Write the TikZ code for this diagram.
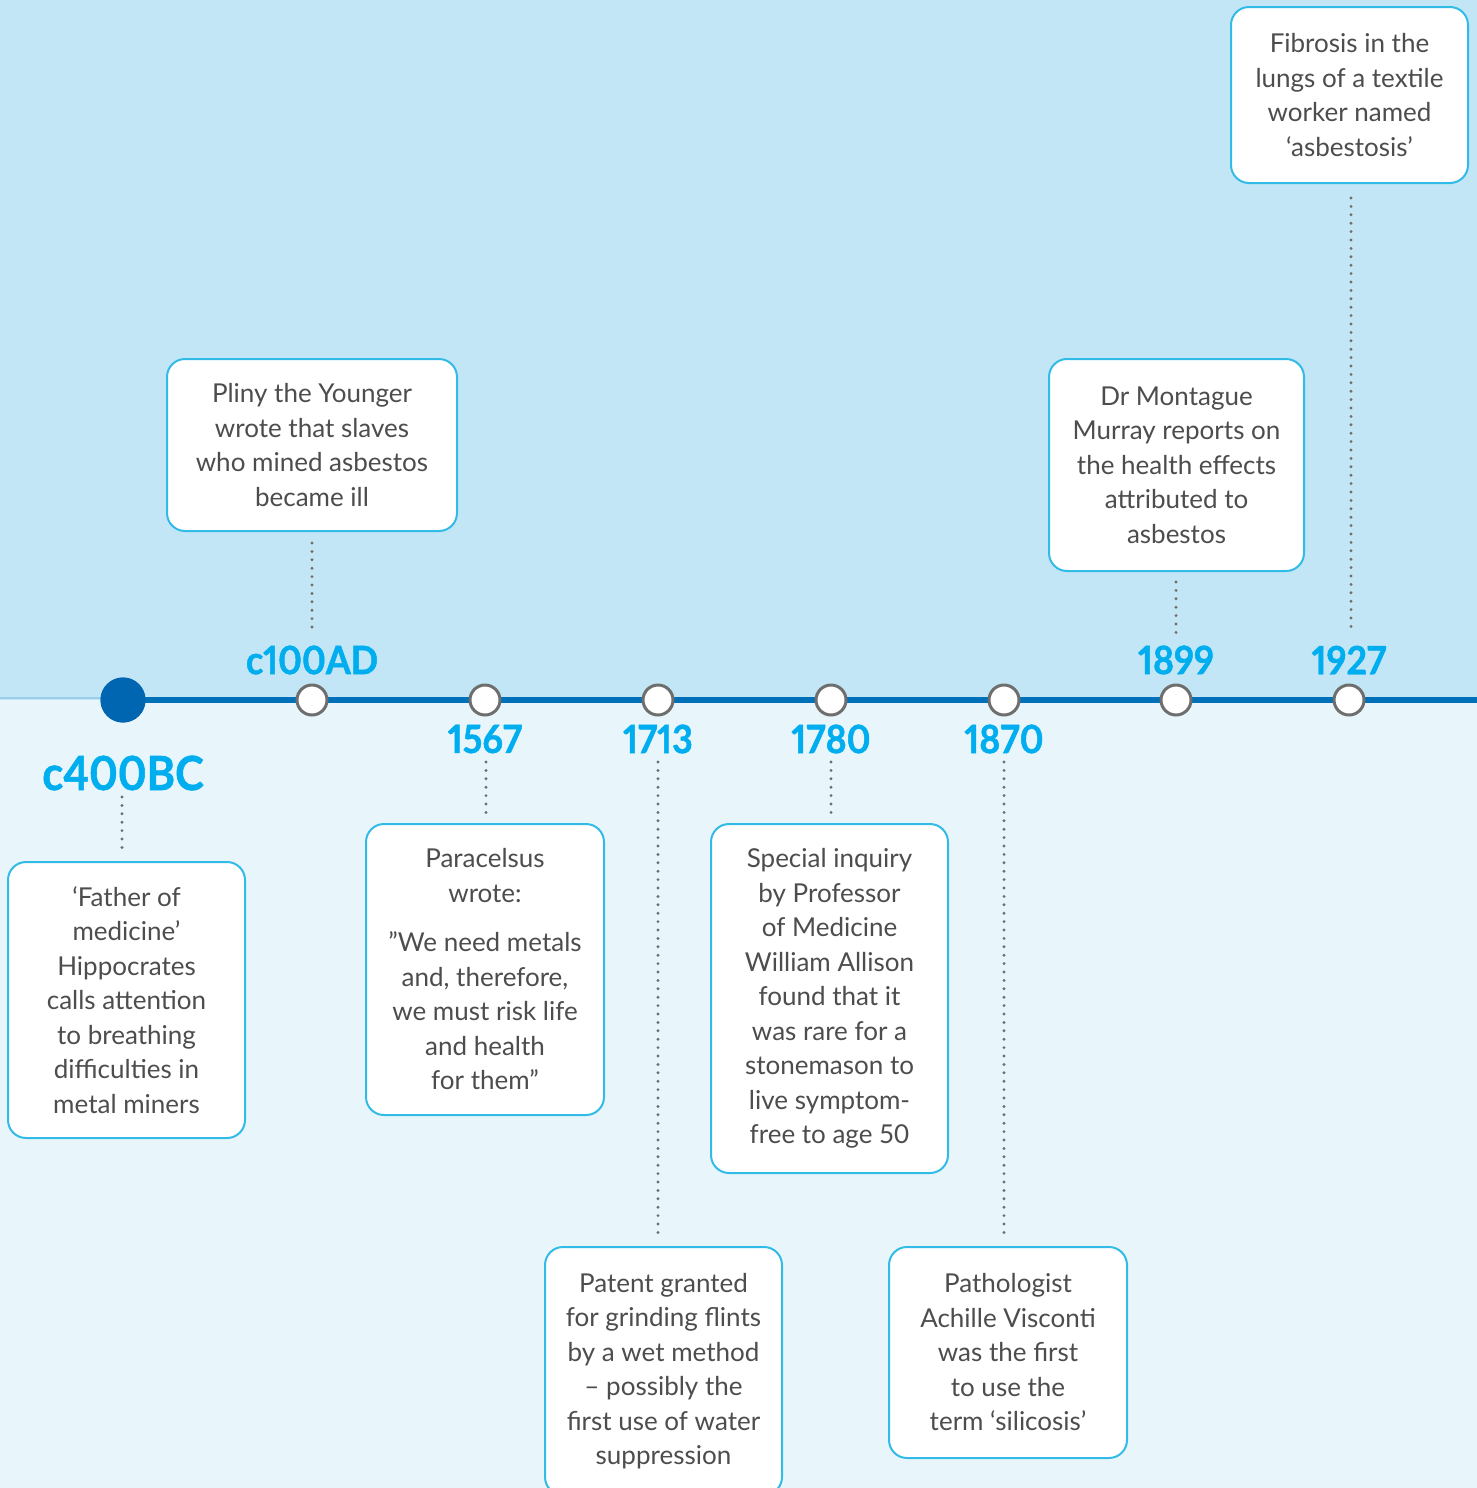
\documentclass[tikz,border=0pt]{standalone}
\usepackage{fontspec}
\setmainfont{Lato}
\newfontfamily\datefont[Numbers=Proportional,FakeStretch=0.92,BoldFeatures={FakeBold=1.2}]{Lato}
\definecolor{topband}{HTML}{C2E6F5}
\definecolor{lowband}{HTML}{E8F6FC}
\definecolor{linecol}{HTML}{0070B8}
\definecolor{bigdot}{HTML}{0066B1}
\definecolor{datecol}{HTML}{00AEEF}
\definecolor{boxline}{HTML}{33BBE8}
\definecolor{txt}{HTML}{4D4D4D}
\definecolor{dotcol}{HTML}{6E6E6E}
\tikzset{
  eventbox/.style={draw=boxline, line width=1pt, fill=white, rounded corners=9pt,
    align=center, text=txt, inner sep=0pt,
    font=\fontsize{13}{17.25}\selectfont},
  datelabel/.style={text=datecol, inner sep=0pt,
    font=\datefont\fontsize{19.5}{19.5}\selectfont\bfseries},
  bigdatelabel/.style={text=datecol, inner sep=0pt,
    font=\datefont\fontsize{23.5}{23.5}\selectfont\bfseries},
  markdot/.style={circle, draw=dotcol, line width=1.5pt, fill=white,
    minimum size=15pt, inner sep=0pt},
  startdot/.style={circle, fill=bigdot, minimum size=22.5pt, inner sep=0pt},
  leader/.style={draw=dotcol, line width=1.6pt, line cap=round,
    dash pattern=on 0pt off 4.2pt},
}
\begin{document}
\begin{tikzpicture}[x=0.5pt, y=-0.5pt]
\useasboundingbox (0,0) rectangle (1477,1488);
\clip (0,0) rectangle (1477,1488);
% background bands
\fill[topband] (0,0) rectangle (1477,700);
\fill[lowband] (0,700) rectangle (1477,1488);
\draw[topband!80!linecol, line width=1pt] (0,698) -- (1477,698);

% timeline
\node[startdot] (s0) at (123,700) {};
\coordinate (lineend) at (1477,700);
\draw[linecol, line width=2.6pt] (s0.center) -- (lineend);
\node[startdot] at (123,700) {};
\node[markdot] (m1) at (312,700) {};
\node[markdot] (m2) at (485,700) {};
\node[markdot] (m3) at (658,700) {};
\node[markdot] (m4) at (831,700) {};
\node[markdot] (m5) at (1004,700) {};
\node[markdot] (m6) at (1176,700) {};
\node[markdot] (m7) at (1349,700) {};

% date labels
\node[bigdatelabel] (d0) at (123,773) {c400BC};
\node[datelabel] (d1) at (312,660) {c100AD};
\node[datelabel] (d2) at (485,739) {1567};
\node[datelabel] (d3) at (658,739) {1713};
\node[datelabel] (d4) at (831,739) {1780};
\node[datelabel] (d5) at (1004,739) {1870};
\node[datelabel] (d6) at (1176,660) {1899};
\node[datelabel] (d7) at (1349,660) {1927};

% event boxes
\node[eventbox, minimum width=118.5pt, minimum height=138pt] (b0) at (126.5,1000)
  {‘Father of\\medicine’\\Hippocrates\\calls attention\\to breathing\\difficulties in\\metal miners};
\node[eventbox, minimum width=145pt, minimum height=86pt] (b1) at (312,445)
  {Pliny the Younger\\wrote that slaves\\who mined asbestos\\became ill};
\node[eventbox, minimum width=119pt, minimum height=145.5pt] (b2) at (485,969.5)
  {Paracelsus\\wrote:\\[7.5pt]”We need metals\\and, therefore,\\we must risk life\\and health\\for them”};
\node[eventbox, minimum width=118.5pt, minimum height=124pt] (b3) at (663.5,1371)
  {Patent granted\\for grinding flints\\by a wet method\\– possibly the\\first use of water\\suppression};
\node[eventbox, minimum width=118.5pt, minimum height=174.5pt] (b4) at (829.5,998.5)
  {Special inquiry\\by Professor\\of Medicine\\William Allison\\found that it\\was rare for a\\stonemason to\\live symptom-\\free to age 50};
\node[eventbox, minimum width=119pt, minimum height=105.5pt] (b5) at (1008,1352.5)
  {Pathologist\\Achille Visconti\\was the first\\to use the\\term ‘silicosis’};
\node[eventbox, minimum width=127.5pt, minimum height=106pt] (b6) at (1176.5,465)
  {Dr Montague\\Murray reports on\\the health effects\\attributed to\\asbestos};
\node[eventbox, minimum width=118.5pt, minimum height=88pt] (b7) at (1349.5,95)
  {Fibrosis in the\\lungs of a textile\\worker named\\‘asbestosis’};

% dotted leaders
\coordinate (l0a) at (122,797);  \coordinate (l0b) at (122,849);
\coordinate (l1a) at (312,543);  \coordinate (l1b) at (312,635);
\coordinate (l2a) at (486,762);  \coordinate (l2b) at (486,813);
\coordinate (l3a) at (658,762);  \coordinate (l3b) at (658,1238);
\coordinate (l4a) at (831,762);  \coordinate (l4b) at (831,813);
\coordinate (l5a) at (1004,762); \coordinate (l5b) at (1004,1238);
\coordinate (l6a) at (1176,582); \coordinate (l6b) at (1176,633);
\coordinate (l7a) at (1351,198); \coordinate (l7b) at (1351,634);
\foreach \i in {0,...,7} { \draw[leader] (l\i a) -- (l\i b); }
\end{tikzpicture}
\end{document}
